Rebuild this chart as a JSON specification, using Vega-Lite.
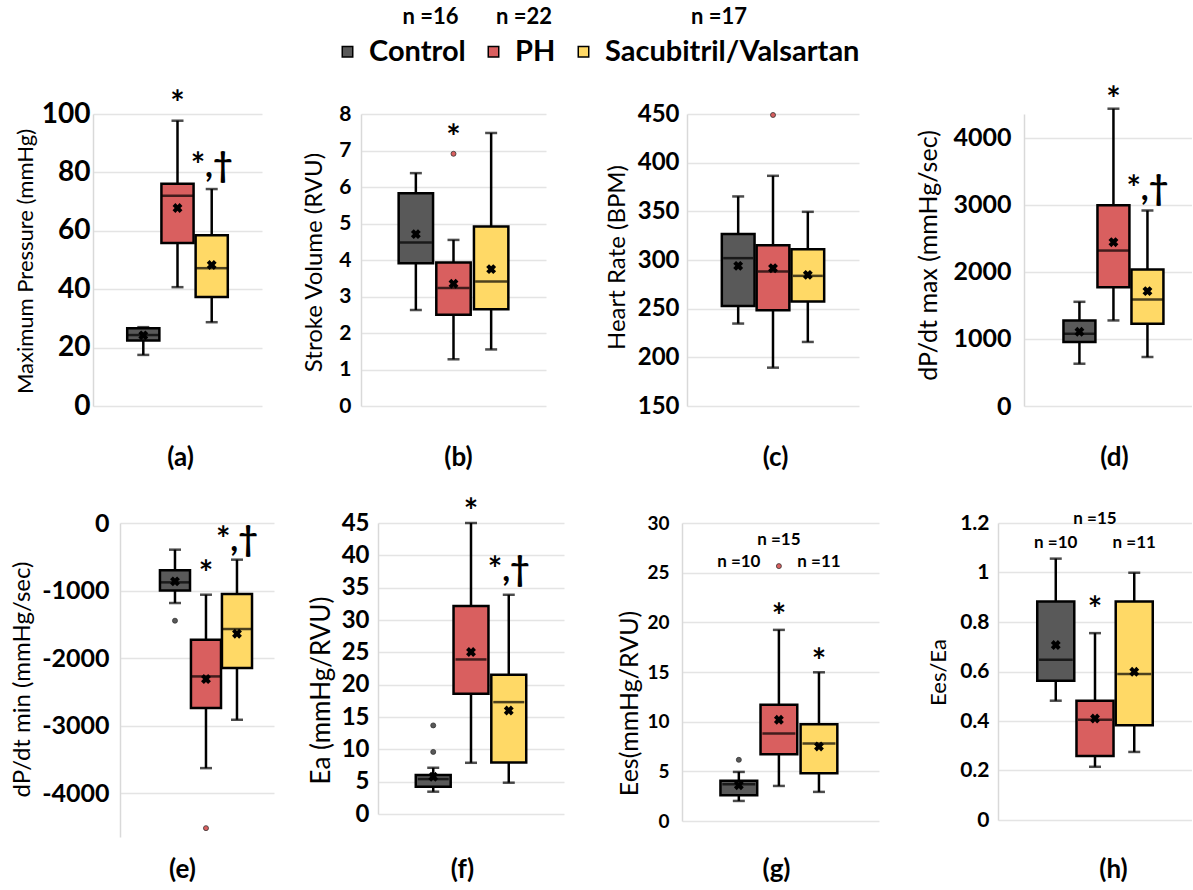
{
"$schema": "https://vega.github.io/schema/vega-lite/v6.json",
"padding": {"left": 10, "top": 7, "right": 0, "bottom": 0},
"background": "white",
"datasets": {
 "box": [
  {"p":"a","g":"Control","lo":17.5,"q1":22.4,"med":24.3,"q3":26.6,"hi":27.0,"mean":24.2},
  {"p":"a","g":"PH","lo":40.7,"q1":55.8,"med":72.0,"q3":76.1,"hi":97.7,"mean":67.8},
  {"p":"a","g":"Sacubitril/Valsartan","lo":28.7,"q1":37.3,"med":47.2,"q3":58.5,"hi":74.3,"mean":48.3},
  {"p":"b","g":"Control","lo":2.63,"q1":3.91,"med":4.48,"q3":5.83,"hi":6.38,"mean":4.71},
  {"p":"b","g":"PH","lo":1.28,"q1":2.50,"med":3.23,"q3":3.93,"hi":4.55,"mean":3.35},
  {"p":"b","g":"Sacubitril/Valsartan","lo":1.55,"q1":2.65,"med":3.41,"q3":4.92,"hi":7.48,"mean":3.75},
  {"p":"c","g":"Control","lo":234.7,"q1":252.8,"med":301.9,"q3":326.6,"hi":365.3,"mean":294.0},
  {"p":"c","g":"PH","lo":189.4,"q1":248.4,"med":288.2,"q3":315.2,"hi":386.5,"mean":291.6},
  {"p":"c","g":"Sacubitril/Valsartan","lo":215.8,"q1":257.3,"med":283.7,"q3":311.1,"hi":349.5,"mean":284.7},
  {"p":"d","g":"Control","lo":631,"q1":954,"med":1078,"q3":1277,"hi":1555,"mean":1108},
  {"p":"d","g":"PH","lo":1277,"q1":1774,"med":2320,"q3":2996,"hi":4437,"mean":2445},
  {"p":"d","g":"Sacubitril/Valsartan","lo":730,"q1":1227,"med":1590,"q3":2037,"hi":2917,"mean":1714},
  {"p":"e","g":"Control","lo":-1185,"q1":-998,"med":-879,"q3":-701,"hi":-395,"mean":-864},
  {"p":"e","g":"PH","lo":-3630,"q1":-2741,"med":-2272,"q3":-1728,"hi":-1062,"mean":-2311},
  {"p":"e","g":"Sacubitril/Valsartan","lo":-2914,"q1":-2148,"med":-1570,"q3":-1052,"hi":-543,"mean":-1640},
  {"p":"f","g":"Control","lo":3.45,"q1":4.22,"med":5.4,"q3":6.02,"hi":7.15,"mean":5.76},
  {"p":"f","g":"PH","lo":7.92,"q1":18.6,"med":23.9,"q3":32.15,"hi":45.0,"mean":25.05},
  {"p":"f","g":"Sacubitril/Valsartan","lo":4.84,"q1":7.97,"med":17.3,"q3":21.55,"hi":33.9,"mean":16.0},
  {"p":"g","g":"Control","lo":2.02,"q1":2.6,"med":3.7,"q3":4.04,"hi":4.94,"mean":3.6},
  {"p":"g","g":"PH","lo":3.53,"q1":6.73,"med":8.81,"q3":11.7,"hi":19.24,"mean":10.19},
  {"p":"g","g":"Sacubitril/Valsartan","lo":2.93,"q1":4.81,"med":7.8,"q3":9.75,"hi":14.97,"mean":7.5},
  {"p":"h","g":"Control","lo":0.482,"q1":0.563,"med":0.647,"q3":0.883,"hi":1.056,"mean":0.707},
  {"p":"h","g":"PH","lo":0.215,"q1":0.259,"med":0.405,"q3":0.482,"hi":0.755,"mean":0.410},
  {"p":"h","g":"Sacubitril/Valsartan","lo":0.275,"q1":0.383,"med":0.590,"q3":0.883,"hi":0.999,"mean":0.599}
 ],
 "out": [
  {"p":"b","g":"PH","v":6.91},
  {"p":"c","g":"PH","v":449},
  {"p":"e","g":"Control","v":-1447},
  {"p":"e","g":"PH","v":-4519},
  {"p":"f","g":"Control","v":13.7},
  {"p":"f","g":"Control","v":9.6},
  {"p":"g","g":"Control","v":6.16},
  {"p":"g","g":"PH","v":25.66}
 ],
 "ann": [
  {"p":"a","g":"PH","k":"s","t":"*","y":106.3},
  {"p":"a","g":"Sacubitril/Valsartan","k":"s","t":"*,†","y":84.8},
  {"p":"b","g":"PH","k":"s","t":"*","y":7.56},
  {"p":"d","g":"PH","k":"s","t":"*","y":4687},
  {"p":"d","g":"Sacubitril/Valsartan","k":"s","t":"*,†","y":3358},
  {"p":"e","g":"PH","k":"s","t":"*","y":-633},
  {"p":"e","g":"Sacubitril/Valsartan","k":"s","t":"*,†","y":-129},
  {"p":"f","g":"PH","k":"s","t":"*","y":47.9},
  {"p":"f","g":"Sacubitril/Valsartan","k":"s","t":"*,†","y":39.0},
  {"p":"g","g":"PH","k":"s","t":"*","y":21.3},
  {"p":"g","g":"Sacubitril/Valsartan","k":"s","t":"*","y":16.8},
  {"p":"h","g":"PH","k":"s","t":"*","y":0.88},
  {"p":"g","g":"PH","k":"n","t":"n =15","y":28.3},
  {"p":"g","g":"Control","k":"n","t":"n =10","y":26.1},
  {"p":"g","g":"Sacubitril/Valsartan","k":"n","t":"n =11","y":26.1},
  {"p":"h","g":"PH","k":"n","t":"n =15","y":1.216},
  {"p":"h","g":"Control","k":"n","t":"n =10","y":1.12},
  {"p":"h","g":"Sacubitril/Valsartan","k":"n","t":"n =11","y":1.12}
 ]
},
"spacing": 409,
"bounds": "flush",
"vconcat": [
 {"spacing": 0, "bounds": "flush", "hconcat": [
 {"width":169,"height":292,
  "encoding":{"x":{"field":"g","type":"nominal","scale":{"domain":["Control","PH","Sacubitril/Valsartan"],"paddingInner":0.06,"paddingOuter":1.09,"align":0.5},"axis":{"title":"(a)","titleX":87,"titleY":51}}},
  "layer":[
   {"data":{"name":"box"},"transform":[{"filter":"datum.p=='a'"}],"mark":{"type":"rule","color":"black","strokeWidth":2.5},
    "encoding":{"y":{"field":"lo","type":"quantitative","scale":{"domain":[0,100],"nice":false,"zero":false},"axis":{"title":"Maximum Pressure (mmHg)","values":[0,20,40,60,80,100],"tickCount":20,"labelExpr":"'' + datum.value","labelOverlap":false,"labelFontSize":28,"labelPadding":3,"titleFontSize":22,"titleX":-68,"titleY":147}},"y2":{"field":"hi"}}},
   {"data":{"name":"box"},"transform":[{"filter":"datum.p=='a'"}],"mark":{"type":"tick","color":"black","thickness":2.5,"size":12},"encoding":{"y":{"field":"lo","type":"quantitative"}}},
   {"data":{"name":"box"},"transform":[{"filter":"datum.p=='a'"}],"mark":{"type":"tick","color":"black","thickness":2.5,"size":12},"encoding":{"y":{"field":"hi","type":"quantitative"}}},
   {"data":{"name":"box"},"transform":[{"filter":"datum.p=='a'"}],"mark":{"type":"bar","stroke":"black","strokeWidth":2.5},"encoding":{"y":{"field":"q1","type":"quantitative"},"y2":{"field":"q3"},"fill":{"field":"g","type":"nominal","title":"\u200b\u00a0\u00a0\u00a0\u00a0\u00a0\u00a0\u00a0\u00a0\u00a0\u00a0\u00a0\u00a0\u00a0n =16\u00a0\u00a0\u00a0\u00a0\u00a0\u00a0\u00a0n =22\u00a0\u00a0\u00a0\u00a0\u00a0\u00a0\u00a0\u00a0\u00a0\u00a0\u00a0\u00a0\u00a0\u00a0\u00a0\u00a0\u00a0\u00a0\u00a0\u00a0\u00a0\u00a0\u00a0\u00a0\u00a0\u00a0n =17"}}},
   {"data":{"name":"box"},"transform":[{"filter":"datum.p=='a'"}],"mark":{"type":"tick","color":"black","thickness":2.5,"size":31},"encoding":{"y":{"field":"med","type":"quantitative"}}},
   {"data":{"name":"box"},"transform":[{"filter":"datum.p=='a'"}],"mark":{"type":"point","shape":"cross","angle":45,"filled":true,"color":"black","size":100,"opacity":1},"encoding":{"y":{"field":"mean","type":"quantitative"}}},
   {"data":{"name":"ann"},"transform":[{"filter":"datum.p=='a' && datum.k=='s'"}],"mark":{"type":"text","fontSize":34,"fontWeight":"bold","baseline":"middle","dy":9,"color":"black"},"encoding":{"y":{"field":"y","type":"quantitative"},"text":{"field":"t"}}}
  ]},
 {"width":99,"height":10,"data":{"values":[]},"mark":{"type":"point","opacity":0}},
 {"width":185,"height":292,
  "encoding":{"x":{"field":"g","type":"nominal","scale":{"domain":["Control","PH","Sacubitril/Valsartan"],"paddingInner":0.086,"paddingOuter":1.186,"align":0.5},"axis":{"title":"(b)","titleX":97,"titleY":51}}},
  "layer":[
   {"data":{"name":"box"},"transform":[{"filter":"datum.p=='b'"}],"mark":{"type":"rule","color":"black","strokeWidth":2.5},
    "encoding":{"y":{"field":"lo","type":"quantitative","scale":{"domain":[0,8],"nice":false,"zero":false},"axis":{"title":"Stroke Volume (RVU)","values":[0,1,2,3,4,5,6,7,8],"tickCount":20,"labelExpr":"'' + datum.value","labelOverlap":false,"labelFontSize":21,"labelPadding":10,"titleFontSize":24,"titleX":-47,"titleY":148}},"y2":{"field":"hi"}}},
   {"data":{"name":"box"},"transform":[{"filter":"datum.p=='b'"}],"mark":{"type":"tick","color":"black","thickness":2.5,"size":12},"encoding":{"y":{"field":"lo","type":"quantitative"}}},
   {"data":{"name":"box"},"transform":[{"filter":"datum.p=='b'"}],"mark":{"type":"tick","color":"black","thickness":2.5,"size":12},"encoding":{"y":{"field":"hi","type":"quantitative"}}},
   {"data":{"name":"box"},"transform":[{"filter":"datum.p=='b'"}],"mark":{"type":"bar","stroke":"black","strokeWidth":2.5},"encoding":{"y":{"field":"q1","type":"quantitative"},"y2":{"field":"q3"},"fill":{"field":"g","type":"nominal"}}},
   {"data":{"name":"box"},"transform":[{"filter":"datum.p=='b'"}],"mark":{"type":"tick","color":"black","thickness":2.5,"size":32},"encoding":{"y":{"field":"med","type":"quantitative"}}},
   {"data":{"name":"box"},"transform":[{"filter":"datum.p=='b'"}],"mark":{"type":"point","shape":"cross","angle":45,"filled":true,"color":"black","size":100,"opacity":1},"encoding":{"y":{"field":"mean","type":"quantitative"}}},
   {"data":{"name":"out"},"transform":[{"filter":"datum.p=='b'"}],"mark":{"type":"point","shape":"circle","filled":true,"stroke":"#333333","strokeWidth":0.8,"size":25,"opacity":1},"encoding":{"y":{"field":"v","type":"quantitative"},"fill":{"field":"g","type":"nominal"}}},
   {"data":{"name":"ann"},"transform":[{"filter":"datum.p=='b' && datum.k=='s'"}],"mark":{"type":"text","fontSize":34,"fontWeight":"bold","baseline":"middle","dy":9,"color":"black"},"encoding":{"y":{"field":"y","type":"quantitative"},"text":{"field":"t"}}}
  ]},
 {"width":141,"height":10,"data":{"values":[]},"mark":{"type":"point","opacity":0}},
 {"width":172,"height":292,
  "encoding":{"x":{"field":"g","type":"nominal","scale":{"domain":["Control","PH","Sacubitril/Valsartan"],"paddingInner":0.06,"paddingOuter":1.176,"align":0.5},"axis":{"title":"(c)","titleX":88,"titleY":51}}},
  "layer":[
   {"data":{"name":"box"},"transform":[{"filter":"datum.p=='c'"}],"mark":{"type":"rule","color":"black","strokeWidth":2.5},
    "encoding":{"y":{"field":"lo","type":"quantitative","scale":{"domain":[150,450],"nice":false,"zero":false},"axis":{"title":"Heart Rate (BPM)","values":[150,200,250,300,350,400,450],"tickCount":20,"labelExpr":"'' + datum.value","labelOverlap":false,"labelFontSize":24,"labelPadding":8,"titleFontSize":24,"titleX":-70,"titleY":143}},"y2":{"field":"hi"}}},
   {"data":{"name":"box"},"transform":[{"filter":"datum.p=='c'"}],"mark":{"type":"tick","color":"black","thickness":2.5,"size":12},"encoding":{"y":{"field":"lo","type":"quantitative"}}},
   {"data":{"name":"box"},"transform":[{"filter":"datum.p=='c'"}],"mark":{"type":"tick","color":"black","thickness":2.5,"size":12},"encoding":{"y":{"field":"hi","type":"quantitative"}}},
   {"data":{"name":"box"},"transform":[{"filter":"datum.p=='c'"}],"mark":{"type":"bar","stroke":"black","strokeWidth":2.5},"encoding":{"y":{"field":"q1","type":"quantitative"},"y2":{"field":"q3"},"fill":{"field":"g","type":"nominal"}}},
   {"data":{"name":"box"},"transform":[{"filter":"datum.p=='c'"}],"mark":{"type":"tick","color":"black","thickness":2.5,"size":30},"encoding":{"y":{"field":"med","type":"quantitative"}}},
   {"data":{"name":"box"},"transform":[{"filter":"datum.p=='c'"}],"mark":{"type":"point","shape":"cross","angle":45,"filled":true,"color":"black","size":100,"opacity":1},"encoding":{"y":{"field":"mean","type":"quantitative"}}},
   {"data":{"name":"out"},"transform":[{"filter":"datum.p=='c'"}],"mark":{"type":"point","shape":"circle","filled":true,"stroke":"#333333","strokeWidth":0.8,"size":25,"opacity":1},"encoding":{"y":{"field":"v","type":"quantitative"},"fill":{"field":"g","type":"nominal"}}}
  ]},
 {"width":165,"height":10,"data":{"values":[]},"mark":{"type":"point","opacity":0}},
 {"width":168,"height":292,
  "encoding":{"x":{"field":"g","type":"nominal","scale":{"domain":["Control","PH","Sacubitril/Valsartan"],"paddingInner":0.06,"paddingOuter":1.075,"align":0.58},"axis":{"title":"(d)","titleX":90,"titleY":51}}},
  "layer":[
   {"data":{"name":"box"},"transform":[{"filter":"datum.p=='d'"}],"mark":{"type":"rule","color":"black","strokeWidth":2.5},
    "encoding":{"y":{"field":"lo","type":"quantitative","scale":{"domain":[0,4358],"nice":false,"zero":false},"axis":{"title":"dP/dt max (mmHg/sec)","values":[0,1000,2000,3000,4000],"tickCount":20,"labelExpr":"'' + datum.value","labelOverlap":false,"labelFontSize":25,"labelPadding":13,"titleFontSize":25,"titleX":-96,"titleY":141}},"y2":{"field":"hi"}}},
   {"data":{"name":"box"},"transform":[{"filter":"datum.p=='d'"}],"mark":{"type":"tick","color":"black","thickness":2.5,"size":12},"encoding":{"y":{"field":"lo","type":"quantitative"}}},
   {"data":{"name":"box"},"transform":[{"filter":"datum.p=='d'"}],"mark":{"type":"tick","color":"black","thickness":2.5,"size":12},"encoding":{"y":{"field":"hi","type":"quantitative"}}},
   {"data":{"name":"box"},"transform":[{"filter":"datum.p=='d'"}],"mark":{"type":"bar","stroke":"black","strokeWidth":2.5},"encoding":{"y":{"field":"q1","type":"quantitative"},"y2":{"field":"q3"},"fill":{"field":"g","type":"nominal"}}},
   {"data":{"name":"box"},"transform":[{"filter":"datum.p=='d'"}],"mark":{"type":"tick","color":"black","thickness":2.5,"size":31},"encoding":{"y":{"field":"med","type":"quantitative"}}},
   {"data":{"name":"box"},"transform":[{"filter":"datum.p=='d'"}],"mark":{"type":"point","shape":"cross","angle":45,"filled":true,"color":"black","size":100,"opacity":1},"encoding":{"y":{"field":"mean","type":"quantitative"}}},
   {"data":{"name":"ann"},"transform":[{"filter":"datum.p=='d' && datum.k=='s'"}],"mark":{"type":"text","fontSize":34,"fontWeight":"bold","baseline":"middle","dy":9,"color":"black"},"encoding":{"y":{"field":"y","type":"quantitative"},"text":{"field":"t"}}}
  ]}
 ]},
 {"spacing": 0, "bounds": "flush", "hconcat": [
 {"width":27,"height":10,"data":{"values":[]},"mark":{"type":"point","opacity":0}},
 {"width":154,"height":314,
  "encoding":{"x":{"field":"g","type":"nominal","scale":{"domain":["Control","PH","Sacubitril/Valsartan"],"paddingInner":0.03,"paddingOuter":0.999,"align":0.645},"axis":{"title":"(e)","titleX":62,"titleY":32}}},
  "layer":[
   {"data":{"name":"box"},"transform":[{"filter":"datum.p=='e'"}],"mark":{"type":"rule","color":"black","strokeWidth":2.5},
    "encoding":{"y":{"field":"lo","type":"quantitative","scale":{"domain":[-4650,0],"nice":false,"zero":false},"axis":{"title":"dP/dt min (mmHg/sec)","values":[-4000,-3000,-2000,-1000,0],"tickCount":20,"labelExpr":"'' + datum.value","labelOverlap":false,"labelFontSize":25,"labelPadding":11,"titleFontSize":24,"titleX":-98,"titleY":156}},"y2":{"field":"hi"}}},
   {"data":{"name":"box"},"transform":[{"filter":"datum.p=='e'"}],"mark":{"type":"tick","color":"black","thickness":2.5,"size":12},"encoding":{"y":{"field":"lo","type":"quantitative"}}},
   {"data":{"name":"box"},"transform":[{"filter":"datum.p=='e'"}],"mark":{"type":"tick","color":"black","thickness":2.5,"size":12},"encoding":{"y":{"field":"hi","type":"quantitative"}}},
   {"data":{"name":"box"},"transform":[{"filter":"datum.p=='e'"}],"mark":{"type":"bar","stroke":"black","strokeWidth":2.5},"encoding":{"y":{"field":"q1","type":"quantitative"},"y2":{"field":"q3"},"fill":{"field":"g","type":"nominal"}}},
   {"data":{"name":"box"},"transform":[{"filter":"datum.p=='e'"}],"mark":{"type":"tick","color":"black","thickness":2.5,"size":30},"encoding":{"y":{"field":"med","type":"quantitative"}}},
   {"data":{"name":"box"},"transform":[{"filter":"datum.p=='e'"}],"mark":{"type":"point","shape":"cross","angle":45,"filled":true,"color":"black","size":100,"opacity":1},"encoding":{"y":{"field":"mean","type":"quantitative"}}},
   {"data":{"name":"out"},"transform":[{"filter":"datum.p=='e'"}],"mark":{"type":"point","shape":"circle","filled":true,"stroke":"#333333","strokeWidth":0.8,"size":25,"opacity":1},"encoding":{"y":{"field":"v","type":"quantitative"},"fill":{"field":"g","type":"nominal"}}},
   {"data":{"name":"ann"},"transform":[{"filter":"datum.p=='e' && datum.k=='s'"}],"mark":{"type":"text","fontSize":34,"fontWeight":"bold","baseline":"middle","dy":9,"color":"black"},"encoding":{"y":{"field":"y","type":"quantitative"},"text":{"field":"t"}}}
  ]},
 {"width":104,"height":10,"data":{"values":[]},"mark":{"type":"point","opacity":0}},
 {"width":186,"height":291,
  "encoding":{"x":{"field":"g","type":"nominal","scale":{"domain":["Control","PH","Sacubitril/Valsartan"],"paddingInner":0.075,"paddingOuter":1.31,"align":0.5},"axis":{"title":"(f)","titleX":84,"titleY":55}}},
  "layer":[
   {"data":{"name":"box"},"transform":[{"filter":"datum.p=='f'"}],"mark":{"type":"rule","color":"black","strokeWidth":2.5},
    "encoding":{"y":{"field":"lo","type":"quantitative","scale":{"domain":[0,45],"nice":false,"zero":false},"axis":{"title":"Ea (mmHg/RVU)","values":[0,5,10,15,20,25,30,35,40,45],"tickCount":20,"labelExpr":"'' + datum.value","labelOverlap":false,"labelFontSize":24,"labelPadding":9,"titleFontSize":26,"titleX":-57,"titleY":167}},"y2":{"field":"hi"}}},
   {"data":{"name":"box"},"transform":[{"filter":"datum.p=='f'"}],"mark":{"type":"tick","color":"black","thickness":2.5,"size":12},"encoding":{"y":{"field":"lo","type":"quantitative"}}},
   {"data":{"name":"box"},"transform":[{"filter":"datum.p=='f'"}],"mark":{"type":"tick","color":"black","thickness":2.5,"size":12},"encoding":{"y":{"field":"hi","type":"quantitative"}}},
   {"data":{"name":"box"},"transform":[{"filter":"datum.p=='f'"}],"mark":{"type":"bar","stroke":"black","strokeWidth":2.5},"encoding":{"y":{"field":"q1","type":"quantitative"},"y2":{"field":"q3"},"fill":{"field":"g","type":"nominal"}}},
   {"data":{"name":"box"},"transform":[{"filter":"datum.p=='f'"}],"mark":{"type":"tick","color":"black","thickness":2.5,"size":31},"encoding":{"y":{"field":"med","type":"quantitative"}}},
   {"data":{"name":"box"},"transform":[{"filter":"datum.p=='f'"}],"mark":{"type":"point","shape":"cross","angle":45,"filled":true,"color":"black","size":100,"opacity":1},"encoding":{"y":{"field":"mean","type":"quantitative"}}},
   {"data":{"name":"out"},"transform":[{"filter":"datum.p=='f'"}],"mark":{"type":"point","shape":"circle","filled":true,"stroke":"#333333","strokeWidth":0.8,"size":25,"opacity":1},"encoding":{"y":{"field":"v","type":"quantitative"},"fill":{"field":"g","type":"nominal"}}},
   {"data":{"name":"ann"},"transform":[{"filter":"datum.p=='f' && datum.k=='s'"}],"mark":{"type":"text","fontSize":34,"fontWeight":"bold","baseline":"middle","dy":9,"color":"black"},"encoding":{"y":{"field":"y","type":"quantitative"},"text":{"field":"t"}}}
  ]},
 {"width":118,"height":10,"data":{"values":[]},"mark":{"type":"point","opacity":0}},
 {"width":197,"height":298,
  "encoding":{"x":{"field":"g","type":"nominal","scale":{"domain":["Control","PH","Sacubitril/Valsartan"],"paddingInner":0.083,"paddingOuter":1.28,"align":0.48},"axis":{"title":"(g)","titleX":94,"titleY":48}}},
  "layer":[
   {"data":{"name":"box"},"transform":[{"filter":"datum.p=='g'"}],"mark":{"type":"rule","color":"black","strokeWidth":2.5},
    "encoding":{"y":{"field":"lo","type":"quantitative","scale":{"domain":[0,30],"nice":false,"zero":false},"axis":{"title":"Ees(mmHg/RVU)","values":[0,5,10,15,20,25,30],"tickCount":20,"labelExpr":"'' + datum.value","labelOverlap":false,"labelFontSize":19,"labelPadding":13,"titleFontSize":25,"titleX":-53,"titleY":180}},"y2":{"field":"hi"}}},
   {"data":{"name":"box"},"transform":[{"filter":"datum.p=='g'"}],"mark":{"type":"tick","color":"black","thickness":2.5,"size":12},"encoding":{"y":{"field":"lo","type":"quantitative"}}},
   {"data":{"name":"box"},"transform":[{"filter":"datum.p=='g'"}],"mark":{"type":"tick","color":"black","thickness":2.5,"size":12},"encoding":{"y":{"field":"hi","type":"quantitative"}}},
   {"data":{"name":"box"},"transform":[{"filter":"datum.p=='g'"}],"mark":{"type":"bar","stroke":"black","strokeWidth":2.5},"encoding":{"y":{"field":"q1","type":"quantitative"},"y2":{"field":"q3"},"fill":{"field":"g","type":"nominal"}}},
   {"data":{"name":"box"},"transform":[{"filter":"datum.p=='g'"}],"mark":{"type":"tick","color":"black","thickness":2.5,"size":33},"encoding":{"y":{"field":"med","type":"quantitative"}}},
   {"data":{"name":"box"},"transform":[{"filter":"datum.p=='g'"}],"mark":{"type":"point","shape":"cross","angle":45,"filled":true,"color":"black","size":100,"opacity":1},"encoding":{"y":{"field":"mean","type":"quantitative"}}},
   {"data":{"name":"out"},"transform":[{"filter":"datum.p=='g'"}],"mark":{"type":"point","shape":"circle","filled":true,"stroke":"#333333","strokeWidth":0.8,"size":25,"opacity":1},"encoding":{"y":{"field":"v","type":"quantitative"},"fill":{"field":"g","type":"nominal"}}},
   {"data":{"name":"ann"},"transform":[{"filter":"datum.p=='g' && datum.k=='s'"}],"mark":{"type":"text","fontSize":34,"fontWeight":"bold","baseline":"middle","dy":9,"color":"black"},"encoding":{"y":{"field":"y","type":"quantitative"},"text":{"field":"t"}}},
   {"data":{"name":"ann"},"transform":[{"filter":"datum.p=='g' && datum.k=='n'"}],"mark":{"type":"text","fontSize":17,"fontWeight":"bold","baseline":"middle","color":"black"},"encoding":{"y":{"field":"y","type":"quantitative"},"text":{"field":"t"}}}
  ]},
 {"width":119,"height":10,"data":{"values":[]},"mark":{"type":"point","opacity":0}},
 {"width":194,"height":297,
  "encoding":{"x":{"field":"g","type":"nominal","scale":{"domain":["Control","PH","Sacubitril/Valsartan"],"paddingInner":0.056,"paddingOuter":1.22,"align":0.5},"axis":{"title":"(h)","titleX":115,"titleY":49}}},
  "layer":[
   {"data":{"name":"box"},"transform":[{"filter":"datum.p=='h'"}],"mark":{"type":"rule","color":"black","strokeWidth":2.5},
    "encoding":{"y":{"field":"lo","type":"quantitative","scale":{"domain":[0,1.2],"nice":false,"zero":false},"axis":{"title":"Ees/Ea","values":[0,0.2,0.4,0.6,0.8,1,1.2],"tickCount":20,"labelExpr":"'' + datum.value","labelOverlap":false,"labelFontSize":21,"labelPadding":9,"titleFontSize":22,"titleX":-60,"titleY":149}},"y2":{"field":"hi"}}},
   {"data":{"name":"box"},"transform":[{"filter":"datum.p=='h'"}],"mark":{"type":"tick","color":"black","thickness":2.5,"size":12},"encoding":{"y":{"field":"lo","type":"quantitative"}}},
   {"data":{"name":"box"},"transform":[{"filter":"datum.p=='h'"}],"mark":{"type":"tick","color":"black","thickness":2.5,"size":12},"encoding":{"y":{"field":"hi","type":"quantitative"}}},
   {"data":{"name":"box"},"transform":[{"filter":"datum.p=='h'"}],"mark":{"type":"bar","stroke":"black","strokeWidth":2.5},"encoding":{"y":{"field":"q1","type":"quantitative"},"y2":{"field":"q3"},"fill":{"field":"g","type":"nominal"}}},
   {"data":{"name":"box"},"transform":[{"filter":"datum.p=='h'"}],"mark":{"type":"tick","color":"black","thickness":2.5,"size":34},"encoding":{"y":{"field":"med","type":"quantitative"}}},
   {"data":{"name":"box"},"transform":[{"filter":"datum.p=='h'"}],"mark":{"type":"point","shape":"cross","angle":45,"filled":true,"color":"black","size":100,"opacity":1},"encoding":{"y":{"field":"mean","type":"quantitative"}}},
   {"data":{"name":"ann"},"transform":[{"filter":"datum.p=='h' && datum.k=='s'"}],"mark":{"type":"text","fontSize":34,"fontWeight":"bold","baseline":"middle","dy":9,"color":"black"},"encoding":{"y":{"field":"y","type":"quantitative"},"text":{"field":"t"}}},
   {"data":{"name":"ann"},"transform":[{"filter":"datum.p=='h' && datum.k=='n'"}],"mark":{"type":"text","fontSize":17,"fontWeight":"bold","baseline":"middle","color":"black"},"encoding":{"y":{"field":"y","type":"quantitative"},"text":{"field":"t"}}}
  ]}
 ]}
],
"config": {
 "font": "Lato",
 "view": {"stroke": null},
 "range": {"category": ["#595959", "#d95f5f", "#ffd966"]},
 "axis": {"gridColor": "#e4e4e4", "gridWidth": 1.5, "domainColor": "#d9d9d9", "domainWidth": 1.5, "ticks": false, "labelFontWeight": "bold", "labelColor": "black", "titleColor": "black", "titleFontWeight": "normal", "labelFont": "Lato", "titleFont": "Lato"},
 "axisX": {"labels": false, "domain": false, "grid": false, "titleFontWeight": "bold", "titleFontSize": 26, "titleBaseline": "middle", "titleAlign": "center", "minExtent": 0},
 "axisY": {"grid": true, "titleBaseline": "middle", "titleAlign": "center", "titleAngle": -90, "minExtent": 0, "labelOverlap": false},
 "legend": {"orient": "none", "legendX": 240, "legendY": -107, "direction": "horizontal", "symbolType": "square", "symbolSize": 110, "symbolStrokeColor": "black", "symbolStrokeWidth": 1.5, "symbolOpacity": 1, "labelFont": "Lato", "labelFontSize": 29, "labelFontWeight": "bold", "labelColor": "black", "labelOffset": 7, "columnPadding": 13, "titleFont": "Lato", "titleFontSize": 22, "titleFontWeight": "bold", "titleColor": "black", "titlePadding": 8, "padding": 0, "labelLimit": 0, "titleLimit": 0}
}
}
